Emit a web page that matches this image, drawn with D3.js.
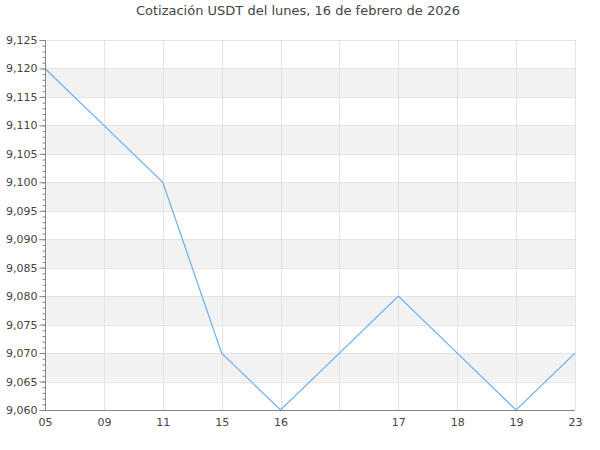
<!DOCTYPE html>
<html><head><meta charset="utf-8">
<script src="https://cdn.jsdelivr.net/npm/d3@7"></script>
<style>body{margin:0;background:#fff;font-family:"DejaVu Sans",sans-serif;}</style>
</head><body>
<svg id="c" width="600" height="450"></svg>
<script>
const title = "Cotización USDT del lunes, 16 de febrero de 2026";
const categories = ["05","09","11","15","16","","17","18","19","23"];
const values = [9.120, 9.110, 9.100, 9.070, 9.060, 9.070, 9.080, 9.070, 9.060, 9.070];
const yMin = 9.060, yMax = 9.125, yStep = 0.005, yMinorStep = 0.001;

const svg = d3.select("#c");
const m = {l:45, r:25, t:40, b:40};
const W = 600, H = 450;
const x = d3.scalePoint().domain(d3.range(categories.length)).range([m.l, W - m.r]);
const y = d3.scaleLinear().domain([yMin, yMax]).range([H - m.b, m.t]);
const nMaj = Math.round((yMax - yMin)/yStep);
const majors = d3.range(nMaj + 1).map(i => yMin + i*yStep);
const nMin = Math.round((yMax - yMin)/yMinorStep);
const minors = d3.range(nMin + 1).map(i => yMin + i*yMinorStep);

// bands
const g = svg.append("g");
g.selectAll("rect.band").data(d3.range(nMaj).filter(i => i % 2 === 1)).join("rect")
  .attr("x", m.l).attr("width", W - m.r - m.l)
  .attr("y", i => y(majors[i+1])).attr("height", i => y(majors[i]) - y(majors[i+1]))
  .attr("fill", "#f2f2f2");
// horizontal grid
g.selectAll("line.hg").data(majors).join("line")
  .attr("x1", m.l).attr("x2", W - m.r).attr("y1", d => Math.round(y(d))+0.5).attr("y2", d => Math.round(y(d))+0.5)
  .attr("stroke", "#e3e3e3");
// vertical grid
g.selectAll("line.vg").data(d3.range(categories.length)).join("line")
  .attr("x1", d => Math.round(x(d))+0.5).attr("x2", d => Math.round(x(d))+0.5)
  .attr("y1", m.t).attr("y2", H - m.b).attr("stroke", "#e3e3e3");

// line
svg.append("path").datum(values)
  .attr("fill", "none").attr("stroke", "#6aaef2").attr("stroke-width", 1.2)
  .attr("d", d3.line().x((d,i) => x(i)).y(d => y(d)));

const fmt = d => d3.format(".3f")(d).replace(".", ",");
// y axis minor ticks
const ya = svg.append("g").attr("transform", `translate(${m.l+0.5},0)`);
ya.call(d3.axisLeft(y).tickValues(minors).tickSize(3).tickFormat(""))
  .call(s => s.select(".domain").remove())
  .call(s => s.selectAll("line").attr("stroke", "#888"));
const yb = svg.append("g").attr("transform", `translate(${m.l+0.5},0)`);
yb.call(d3.axisLeft(y).tickValues(majors).tickSize(6).tickPadding(2).tickFormat(fmt))
  .call(s => s.select(".domain").attr("stroke", "#888").attr("d", `M0,${m.t}V${H-m.b}`))
  .call(s => s.selectAll("line").attr("stroke", "#888"))
  .call(s => s.selectAll("text").attr("fill", "#444").attr("font-size", 11).attr("font-family", "DejaVu Sans"));

// x axis
const xa = svg.append("g").attr("transform", `translate(0,${H - m.b + 0.5})`);
xa.call(d3.axisBottom(x).tickSize(0).tickPadding(8).tickFormat(i => categories[i]))
  .call(s => s.select(".domain").attr("stroke", "#888").attr("d", `M${m.l},0H${W-m.r}`))
  .call(s => s.selectAll("text").attr("fill", "#444").attr("font-size", 11).attr("font-family", "DejaVu Sans"));

svg.append("text").attr("x", 298).attr("y", 15).attr("text-anchor", "middle")
  .attr("font-size", 13).attr("fill", "#444").attr("font-family", "DejaVu Sans").text(title);
</script>
</body></html>
